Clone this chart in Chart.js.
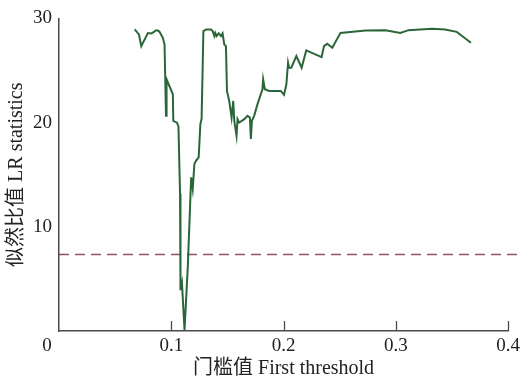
<!DOCTYPE html>
<html>
<head>
<meta charset="utf-8">
<script src="https://cdn.jsdelivr.net/npm/chart.js@4"></script>
<style>
  html, body { margin: 0; padding: 0; background: #ffffff; }
  #wrap { width: 524px; height: 381px; }
</style>
</head>
<body>
<div id="wrap"><canvas id="c" width="524" height="381"></canvas></div>
<script>
// Threshold values (x) and likelihood-ratio statistics (y)
const thresholds = [
  0.0674, 0.0712, 0.0733, 0.0754, 0.0792, 0.0822, 0.0843, 0.0860, 0.0881, 0.0896,
  0.0925, 0.0940, 0.0953, 0.0958, 0.1014, 0.1018, 0.1051, 0.1064, 0.1078, 0.1082,
  0.1095, 0.1118, 0.1147, 0.1177, 0.1191, 0.1206, 0.1221, 0.1244, 0.1259, 0.1270,
  0.1286, 0.1310, 0.1354, 0.1369, 0.1384, 0.1392, 0.1404, 0.1422, 0.1443, 0.1457,
  0.1472, 0.1487, 0.1496, 0.1516, 0.1537, 0.1552, 0.1561, 0.1581, 0.1590, 0.1605,
  0.1650, 0.1679, 0.1700, 0.1709, 0.1718, 0.1738, 0.1768, 0.1812, 0.1818, 0.1833,
  0.1871, 0.1975, 0.2004, 0.2025, 0.2040, 0.2049, 0.2069, 0.2114, 0.2161, 0.2202,
  0.2339, 0.2360, 0.2389, 0.2434, 0.2507, 0.2730, 0.2907, 0.3040, 0.3113, 0.3320,
  0.3439, 0.3542, 0.3572, 0.3669
];
const lrStats = [
  28.94, 28.46, 27.34, 27.80, 28.60, 28.56, 28.68, 28.84, 28.84, 28.70,
  28.14, 27.50, 20.65, 24.16, 22.72, 20.17, 20.00, 19.60, 13.20, 3.92,
  4.62, 0.10, 6.15, 14.75, 13.64, 16.03, 16.35, 16.66, 19.86, 20.36,
  28.78, 28.94, 28.94, 28.78, 28.30, 28.60, 28.30, 28.56, 28.30, 28.56,
  27.50, 27.34, 23.04, 22.08, 20.49, 22.08, 20.17, 18.74, 20.33, 20.00,
  20.33, 20.65, 20.49, 18.42, 20.17, 20.65, 21.77, 23.20, 24.16, 23.20,
  23.04, 23.04, 22.66, 23.68, 25.75, 25.27, 25.27, 26.39, 25.27, 26.93,
  26.29, 27.34, 27.56, 27.18, 28.61, 28.84, 28.87, 28.61, 28.87, 29.00,
  28.94, 28.71, 28.46, 27.66
];
const criticalValue = 7.35;
const criticalRange = [0, 0.409];
const xTicks = [0, 0.1, 0.2, 0.3, 0.4];
const yTicks = [0, 10, 20, 30];
const xTitle = '门槛值 First threshold';
const yTitle = '似然比值 LR statistics';

const serif = "'Liberation Serif', 'Times New Roman', 'Noto Sans CJK SC', serif";
const axisColor = '#4a4a4a';

const curve = thresholds.map((x, i) => ({ x: x, y: lrStats[i] }));
const critLine = criticalRange.map(x => ({ x: x, y: criticalValue }));

const innerTicks = {
  id: 'innerTicks',
  afterDraw(chart) {
    const { ctx, scales: { x, y } } = chart;
    ctx.save();
    ctx.strokeStyle = axisColor;
    ctx.lineWidth = 1.3;
    xTicks.forEach(v => {
      if (v === 0) return;
      const px = Math.round(x.getPixelForValue(v)) + 0.5;
      ctx.beginPath();
      ctx.moveTo(px, y.bottom);
      ctx.lineTo(px, y.bottom - 10);
      ctx.stroke();
    });
    // shared origin label
    ctx.fillStyle = '#222';
    ctx.font = '19px ' + serif;
    ctx.textAlign = 'center';
    ctx.textBaseline = 'middle';
    ctx.fillText('0', x.getPixelForValue(0) - 12, y.bottom + 15);
    ctx.restore();
  }
};

new Chart(document.getElementById('c'), {
  type: 'scatter',
  data: {
    datasets: [
      {
        data: curve,
        showLine: true,
        borderColor: '#2b6639',
        borderWidth: 2,
        pointRadius: 0,
        tension: 0,
        clip: false
      },
      {
        data: critLine,
        showLine: true,
        borderColor: '#8b5272',
        borderWidth: 1.5,
        borderDash: [10, 6],
        pointRadius: 0,
        clip: false
      }
    ]
  },
  options: {
    responsive: false,
    animation: false,
    devicePixelRatio: 1,
    layout: { padding: { top: 17, right: 14, left: 0, bottom: 0 } },
    plugins: { legend: { display: false }, tooltip: { enabled: false } },
    scales: {
      x: {
        type: 'linear',
        min: 0, max: 0.4,
        afterBuildTicks(s) { s.ticks = xTicks.map(v => ({ value: v })); },
        afterFit(s) { s.height = 50; },
        grid: { display: true, drawOnChartArea: false, drawTicks: false },
        border: { display: true, color: axisColor, width: 1.5 },
        ticks: {
          padding: 4,
          color: '#222',
          font: { family: serif, size: 19 },
          callback: v => (v === 0 ? '' : String(Math.round(v * 10) / 10))
        },
        title: {
          display: true,
          text: xTitle,
          color: '#222',
          font: { family: serif, size: 20 },
          padding: { top: 0, bottom: 0 }
        }
      },
      y: {
        type: 'linear',
        min: 0, max: 30,
        afterBuildTicks(s) { s.ticks = yTicks.map(v => ({ value: v })); },
        afterFit(s) { s.width = 59; },
        grid: { display: true, drawOnChartArea: false, drawTicks: false },
        border: { display: true, color: axisColor, width: 1.5 },
        ticks: {
          padding: 7,
          color: '#222',
          font: { family: serif, size: 19 },
          callback: v => (v === 0 ? '' : String(v))
        },
        title: {
          display: true,
          text: yTitle,
          color: '#222',
          font: { family: serif, size: 20 },
          padding: { top: 5, bottom: 0 }
        }
      }
    }
  },
  plugins: [innerTicks]
});
</script>
</body>
</html>
